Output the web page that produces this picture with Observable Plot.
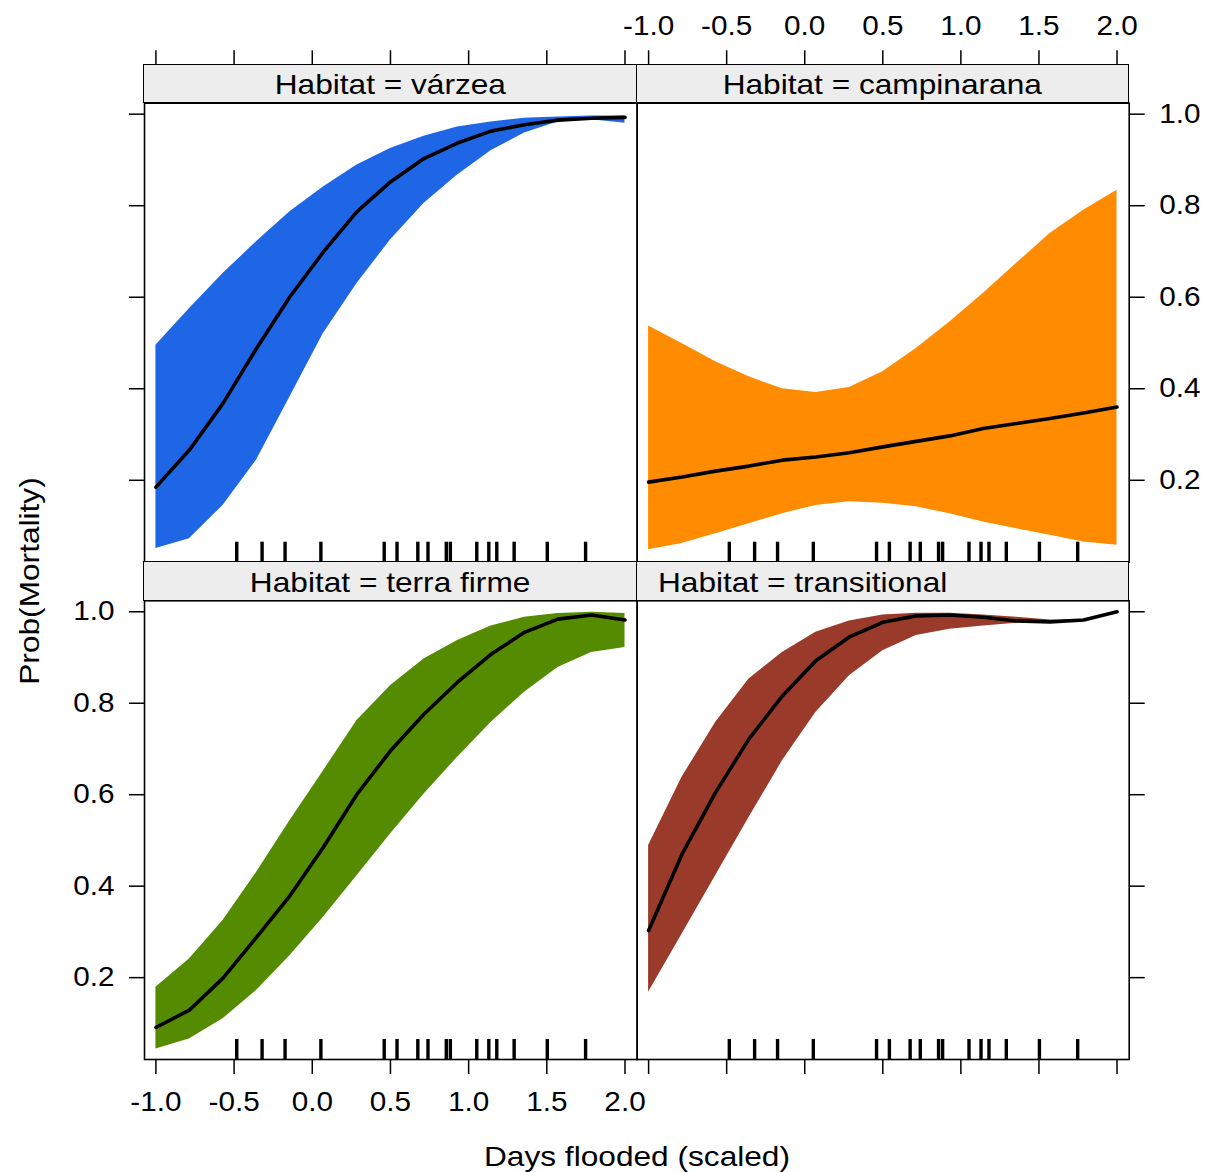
<!DOCTYPE html>
<html>
<head>
<meta charset="utf-8">
<script src="https://cdn.jsdelivr.net/npm/d3@7"></script>
<script src="https://cdn.jsdelivr.net/npm/@observablehq/plot@0.6"></script>
<style>
  html,body{margin:0;padding:0;background:#fff;}
  #chart{position:relative;width:1219px;height:1172px;overflow:hidden;font-family:Arial,"Liberation Sans",Helvetica,sans-serif;color:#000;}
  #chart svg{position:absolute;left:0;top:0;}
  .strip{position:absolute;box-sizing:border-box;background:#ededed;border:1.5px solid #000;font-size:28px;line-height:1;display:flex;align-items:center;white-space:nowrap;padding-top:3.6px;}
  .strip span{display:inline-block;}
  .title{position:absolute;font-size:28px;line-height:1;white-space:nowrap;}
</style>
</head>
<body>
<div id="chart"></div>
<script>
// ---------- data ----------
const habitats = ["várzea", "campinarana", "terra firme", "transitional"];
const habitatColors = ["#1e66e6", "#ff8c00", "#558b00", "#993a2a"];

const xGrid = [-1.0, -0.786, -0.571, -0.357, -0.143, 0.071, 0.286, 0.5, 0.714, 0.929, 1.143, 1.357, 1.571, 1.786, 2.0];

const varzeaFit   = [0.185, 0.266, 0.368, 0.488, 0.601, 0.699, 0.787, 0.852, 0.903, 0.937, 0.963, 0.977, 0.987, 0.991, 0.993];
const varzeaUpper = [0.495, 0.575, 0.652, 0.721, 0.787, 0.841, 0.889, 0.925, 0.952, 0.972, 0.983, 0.991, 0.994, 0.996, 0.996];
const varzeaLower = [0.051, 0.072, 0.145, 0.244, 0.382, 0.521, 0.630, 0.725, 0.805, 0.867, 0.920, 0.959, 0.983, 0.988, 0.980];

const campinaranaFit   = [0.196, 0.207, 0.220, 0.231, 0.244, 0.251, 0.260, 0.273, 0.285, 0.297, 0.313, 0.324, 0.335, 0.347, 0.360];
const campinaranaUpper = [0.537, 0.499, 0.459, 0.426, 0.400, 0.392, 0.403, 0.437, 0.488, 0.546, 0.608, 0.674, 0.739, 0.790, 0.834];
const campinaranaLower = [0.048, 0.062, 0.083, 0.105, 0.127, 0.145, 0.153, 0.150, 0.142, 0.127, 0.109, 0.094, 0.080, 0.065, 0.058];

const terraFirmeFit   = [0.091, 0.129, 0.199, 0.288, 0.379, 0.485, 0.601, 0.696, 0.776, 0.846, 0.907, 0.955, 0.984, 0.993, 0.982];
const terraFirmeUpper = [0.179, 0.241, 0.325, 0.430, 0.543, 0.652, 0.762, 0.838, 0.897, 0.937, 0.969, 0.988, 0.996, 0.999, 0.996];
const terraFirmeLower = [0.044, 0.066, 0.110, 0.172, 0.248, 0.332, 0.423, 0.514, 0.601, 0.682, 0.758, 0.824, 0.878, 0.911, 0.922];

const transitionalFit   = [0.303, 0.470, 0.605, 0.722, 0.816, 0.893, 0.945, 0.977, 0.991, 0.993, 0.988, 0.980, 0.978, 0.982, 1.000];
const transitionalUpper = [0.489, 0.638, 0.758, 0.853, 0.911, 0.955, 0.980, 0.993, 0.997, 0.997, 0.993, 0.988, 0.982, 0.982, 1.000];
const transitionalLower = [0.168, 0.295, 0.423, 0.550, 0.674, 0.780, 0.860, 0.915, 0.948, 0.962, 0.969, 0.975, 0.977, 0.980, 1.000];

const rugX = [-0.483, -0.321, -0.174, 0.055, 0.460, 0.542, 0.675, 0.740, 0.857, 0.883, 1.052, 1.129, 1.180, 1.291, 1.503, 1.748];

const xTicks = [-1.0, -0.5, 0.0, 0.5, 1.0, 1.5, 2.0];
const yTicks = [0.2, 0.4, 0.6, 0.8, 1.0];
const xLabel = "Days flooded (scaled)";
const yLabel = "Prob(Mortality)";

// ---------- layout ----------
const W = 1219, H = 1172;
const X_DOMAIN = [-1.073, 2.078];
const Y_DOMAIN = [0.021, 1.024];
const COLS = [[144, 636.7], [636.7, 1128.7]];
const ROWS = [
  {strip: [64.3, 102.7], plot: [102.7, 561.7]},
  {strip: [561.7, 600.3], plot: [600.3, 1059]}
];
const TOP_TICK_END = 49.3;
const TICK_FONT = 27, TICK_STRETCH = 1.1, TEXT_STRETCH = 1.13;

const fits = [varzeaFit, campinaranaFit, terraFirmeFit, transitionalFit];
const uppers = [varzeaUpper, campinaranaUpper, terraFirmeUpper, transitionalUpper];
const lowers = [varzeaLower, campinaranaLower, terraFirmeLower, transitionalLower];

const panels = [
  {col: 0, row: 0, axes: [{side: "top", labels: false}, {side: "left", labels: false}], align: "center"},
  {col: 1, row: 0, axes: [{side: "top", labels: true}, {side: "right", labels: true}], align: "center"},
  {col: 0, row: 1, axes: [{side: "bottom", labels: true}, {side: "left", labels: true}], align: "center"},
  {col: 1, row: 1, axes: [{side: "bottom", labels: false}, {side: "right", labels: false}], align: "left"}
];

const fmt = d => d.toFixed(1);

function makeAxis(spec, plotTop) {
  const common = {
    tickSize: 15, tickPadding: 15, strokeWidth: 1.5, label: null,
    fontSize: TICK_FONT, tickFormat: spec.labels ? fmt : () => ""
  };
  if (spec.side === "top") return Plot.axisX({...common, anchor: "top", ticks: xTicks, tickSize: plotTop - TOP_TICK_END, tickPadding: 15});
  if (spec.side === "bottom") return Plot.axisX({...common, anchor: "bottom", ticks: xTicks, tickPadding: 17});
  if (spec.side === "left") return Plot.axisY({...common, anchor: "left", ticks: yTicks});
  return Plot.axisY({...common, anchor: "right", ticks: yTicks});
}

function stretchTexts(svg, s) {
  svg.querySelectorAll("text").forEach(t => {
    const x = +t.getAttribute("x") || 0, y = +t.getAttribute("y") || 0;
    const tr = t.getAttribute("transform") || "";
    t.setAttribute("transform", `${tr} translate(${x},${y}) scale(${s},1) translate(${-x},${-y})`);
  });
}

const chart = document.getElementById("chart");

panels.forEach((p, k) => {
  const [x0, x1] = COLS[p.col];
  const [y0, y1] = ROWS[p.row].plot;
  const rows = xGrid.map((x, i) => ({x, fit: fits[k][i], lo: lowers[k][i], hi: uppers[k][i]}));
  const rugLen = 20 * (Y_DOMAIN[1] - Y_DOMAIN[0]) / (y1 - y0);
  const svg = Plot.plot({
    width: W, height: H,
    marginLeft: x0, marginRight: W - x1, marginTop: y0, marginBottom: H - y1,
    x: {domain: X_DOMAIN},
    y: {domain: Y_DOMAIN},
    style: {background: "transparent", fontFamily: 'Arial, "Liberation Sans", Helvetica, sans-serif', fontSize: TICK_FONT + "px", color: "#000"},
    marks: [
      Plot.areaY(rows, {x: "x", y1: "lo", y2: "hi", fill: habitatColors[k]}),
      Plot.lineY(rows, {x: "x", y: "fit", stroke: "#000", strokeWidth: 3.6, strokeLinejoin: "round", strokeLinecap: "round"}),
      Plot.ruleX(rugX, {x: d => d, y1: Y_DOMAIN[0], y2: Y_DOMAIN[0] + rugLen, stroke: "#000", strokeWidth: 3.4}),
      Plot.frame({stroke: "#000", strokeWidth: 1.6}),
      ...p.axes.map(a => makeAxis(a, y0))
    ]
  });
  stretchTexts(svg, TICK_STRETCH);
  chart.appendChild(svg);
});

// strips
panels.forEach((p, k) => {
  const [x0, x1] = COLS[p.col];
  const [s0, s1] = ROWS[p.row].strip;
  const d = document.createElement("div");
  d.className = "strip";
  d.style.left = (x0 - 0.75) + "px";
  d.style.top = (s0 - 0.75) + "px";
  d.style.width = (x1 - x0 + 1.5) + "px";
  d.style.height = (s1 - s0 + 1.5) + "px";
  const span = document.createElement("span");
  span.textContent = "Habitat = " + habitats[k];
  if (p.align === "left") {
    d.style.justifyContent = "flex-start";
    d.style.paddingLeft = "21px";
    span.style.transformOrigin = "left center";
  } else {
    d.style.justifyContent = "center";
    span.style.transformOrigin = "center center";
  }
  span.style.transform = `scaleX(${TEXT_STRETCH})`;
  d.appendChild(span);
  chart.appendChild(d);
});

// axis titles
const xt = document.createElement("div");
xt.className = "title";
xt.textContent = xLabel;
xt.style.left = "637px";
xt.style.top = "1157px";
xt.style.transform = `translate(-50%,-50%) scaleX(${TEXT_STRETCH})`;
chart.appendChild(xt);

const yt = document.createElement("div");
yt.className = "title";
yt.textContent = yLabel;
yt.style.left = "30px";
yt.style.top = "581px";
yt.style.transform = `translate(-50%,-50%) rotate(-90deg) scaleX(${TEXT_STRETCH})`;
chart.appendChild(yt);
</script>
</body>
</html>
